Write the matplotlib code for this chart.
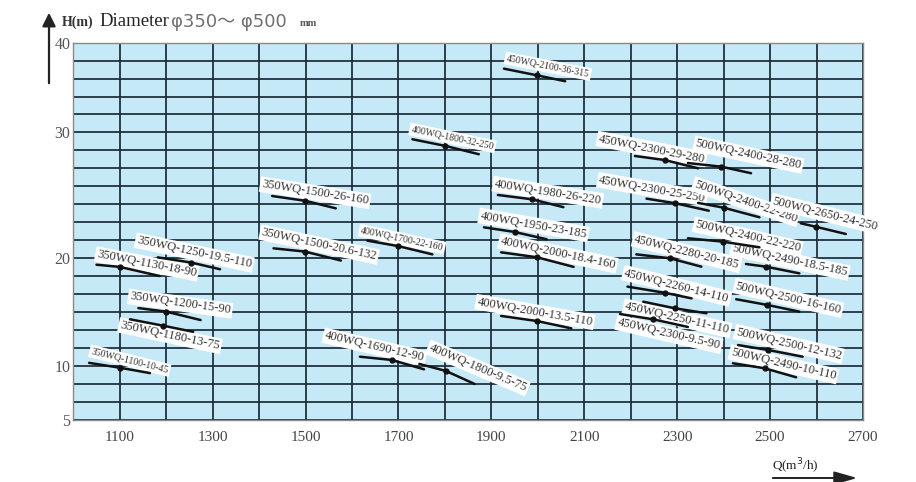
import numpy as np
import matplotlib
matplotlib.use("Agg")
import matplotlib.pyplot as plt


# Pump curves: start, rated point and end of each curve (Q in m3/h, H in m)

names = [
    "350WQ-1100-10-45", "350WQ-1130-18-90", "350WQ-1250-19.5-110",
    "350WQ-1200-15-90", "350WQ-1180-13-75", "350WQ-1500-26-160",
    "350WQ-1500-20.6-132", "400WQ-1700-22-160", "400WQ-1690-12-90",
    "400WQ-1800-9.5-75", "450WQ-2100-36-315", "400WQ-1800-32-250",
    "400WQ-1980-26-220", "400WQ-1950-23-185", "400WQ-2000-18.4-160",
    "400WQ-2000-13.5-110", "450WQ-2300-29-280", "500WQ-2400-28-280",
    "450WQ-2300-25-250", "500WQ-2400-22-280", "500WQ-2650-24-250",
    "500WQ-2400-22-220", "450WQ-2280-20-185", "500WQ-2490-18.5-185",
    "450WQ-2260-14-110", "500WQ-2500-16-160", "450WQ-2250-11-110",
    "450WQ-2300-9.5-90", "500WQ-2500-12-132", "500WQ-2490-10-110",
]

q_start = [1034, 1050, 1182, 1140, 1122, 1428, 1431, 1633, 1617, 1745,
           1927, 1730, 1914, 1884, 1921, 1921, 2209, 2323, 2234, 2345,
           2566, 2323, 2212, 2448, 2193, 2427, 2177, 2227, 2431, 2420]
q_rated = [1100, 1100, 1254, 1200, 1193, 1499, 1499, 1699, 1685, 1802,
           1998, 1801, 1987, 1950, 1998, 1998, 2273, 2395, 2296, 2400,
           2599, 2398, 2284, 2491, 2273, 2494, 2248, 2295, 2495, 2488]
q_end = [1165, 1186, 1316, 1274, 1258, 1565, 1576, 1773, 1755, 1864,
         2059, 1873, 2055, 2019, 2077, 2072, 2345, 2459, 2368, 2477,
         2663, 2477, 2352, 2563, 2331, 2563, 2323, 2363, 2570, 2556]

h_start = [10.3, 19.4, 20.07, 15.38, 14.34, 24.95, 20.79, 21.4, 10.87, 10.2,
           37.1, 29.46, 25.03, 22.46, 20.47, 14.65, 28.13, 27.57, 24.74, 24.4,
           22.78, 21.59, 20.31, 19.47, 17.37, 16.2, 14.83, 15.97, 11.95, 10.26]
h_rated = [9.85, 19.2, 19.6, 15.05, 13.75, 24.57, 20.53, 20.97, 10.57, 9.55,
           36.36, 28.93, 24.69, 22.09, 20.08, 14.18, 27.81, 27.28, 24.37, 24.02,
           22.5, 21.32, 20.0, 19.22, 16.8, 15.67, 14.34, 15.36, 11.5, 9.8]
h_end = [9.35, 18.35, 18.98, 14.27, 13.18, 23.97, 19.79, 20.31, 9.70, 8.34,
         35.7, 28.27, 24.06, 21.51, 19.2, 13.5, 27.15, 26.76, 23.78, 23.26,
         21.93, 20.87, 19.22, 18.6, 16.28, 15.05, 13.63, 14.9, 10.87, 8.96]

x_ticks = [1100, 1300, 1500, 1700, 1900, 2100, 2300, 2500, 2700]
y_ticks = [5, 10, 20, 30, 40]

# the printed H axis is not linear: grid rows between the labelled values
y_rows = [0, 3, 9, 16, 21]

# label placement (offset from rated point in pixels, rotation, size)
label_dx = [10, 27, 3, 14, 7, 10, 14, 4, -17, 32, 11, 7, 16, 19, 21, -2,
            -13, 27, -23, 22, 9, 25, 17, 24, 12, 21, 24, -6, 21, 19]
label_dy = [7, 3, 10, 8, -10, 8, 7, 7, 13, 3, 9, 8, 7, 7, 4, 9,
            11, 12, 14, 6, 13, 5, 6, 6, 7, 7, 1, -26, 6, 4]
label_rot = [-14, -11, -12, -8, -12, -9, -12, -12, -13, -23, -11, -12, -9, -10,
             -12, -10, -11, -12, -10, -19, -14, -13, -14, -12, -14, -13, -13,
             -13, -13, -13]
small = {"350WQ-1100-10-45", "400WQ-1700-22-160", "450WQ-2100-36-315",
         "400WQ-1800-32-250"}

SERIF = ["Liberation Serif", "DejaVu Serif"]
GRID = "#1b2a36"


def forward(h):
    return np.interp(h, y_ticks, y_rows)


def inverse(t):
    return np.interp(t, y_rows, y_ticks)


fig = plt.figure(figsize=(9.16, 4.82), dpi=100)
ax = fig.add_axes([73.3 / 916, 62 / 482, 789.7 / 916, 377.4 / 482])
ax.set_facecolor("#c6e9f8")

ax.set_yscale("function", functions=(forward, inverse))
ax.set_xlim(1000, 2695)
ax.set_ylim(5, 40)

ax.set_xticks(x_ticks)
ax.set_xticks(np.arange(1100, 2700, 100), minor=True)
ax.set_yticks(y_ticks)
ax.set_yticks(inverse(np.arange(1, 21)), minor=True)
ax.grid(which="both", color=GRID, linewidth=1.25)
ax.set_axisbelow(True)

ax.tick_params(which="both", length=0)
ax.tick_params(axis="x", pad=8, labelsize=11, labelcolor="#444444")
ax.tick_params(axis="y", pad=2, labelsize=11.5, labelcolor="#555555")
for lab in ax.get_xticklabels() + ax.get_yticklabels():
    lab.set_family(SERIF)
for sp in ax.spines.values():
    sp.set_color("#8a8a8a")
    sp.set_linewidth(1.0)

# Curves and labels

for i, name in enumerate(names):
    ax.plot([q_start[i], q_rated[i], q_end[i]],
            [h_start[i], h_rated[i], h_end[i]],
            color="#111111", lw=1.8, zorder=4, solid_capstyle="round")
    ax.plot(q_rated[i], h_rated[i], "o", color="#111111", ms=3.5, zorder=5)
    ax.annotate(name, xy=(q_rated[i], h_rated[i]),
                xytext=(label_dx[i], label_dy[i]), textcoords="offset pixels",
                rotation=label_rot[i], rotation_mode="anchor",
                ha="center", va="center", family=SERIF,
                fontsize=7 if name in small else 9, color="#333333",
                bbox=dict(fc="white", ec="none", pad=1.3), zorder=3)

# Axis titles and arrows

fig.patches.append(matplotlib.patches.FancyArrowPatch(
    (49, 482 - 86), (49, 482 - 10), transform=None,
    arrowstyle="-|>,head_length=8,head_width=4", mutation_scale=1,
    color="#222222", lw=1.6))
fig.text(62 / 916, 1 - 22 / 482, "H(m)", fontsize=10, fontweight="bold",
         family=SERIF, color="#333333", va="center")
fig.text(99 / 916, 1 - 22 / 482, "Diameter", fontsize=13.5,
         family=SERIF, color="#222222", va="center")
fig.text(171 / 916, 1 - 22 / 482, "φ350～ φ500", fontsize=13,
         family=["DejaVu Sans", "Noto Sans CJK SC"], color="#707070",
         va="center")
fig.text(300 / 916, 1 - 24 / 482, "mm", fontsize=7.5, fontweight="bold",
         family=SERIF, color="#555555", va="center")

fig.patches.append(matplotlib.patches.FancyArrowPatch(
    (770, 482 - 478), (860, 482 - 478), transform=None,
    arrowstyle="-|>,head_length=14,head_width=4", mutation_scale=1,
    color="#222222", lw=1.4))
fig.text(772 / 916, 1 - 466 / 482, "Q(m$^3$/h)", fontsize=9.5,
         family=SERIF, color="#222222", va="center")

fig.savefig("out.png", dpi=100)
